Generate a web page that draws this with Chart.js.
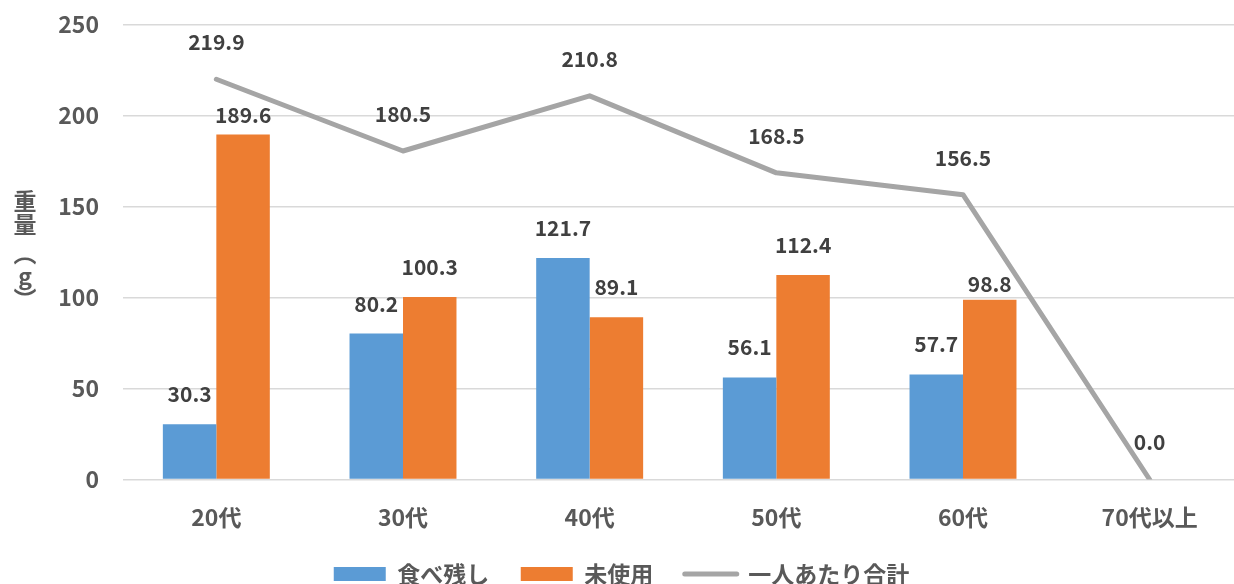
<!DOCTYPE html>
<html><head><meta charset="utf-8">
<style>
html,body{margin:0;padding:0;overflow:hidden;background:#fff}
#wrap{width:1250px;height:600px;position:relative}
#ytitle{position:absolute;left:13px;top:190px;writing-mode:vertical-rl;text-orientation:upright;
  font:bold 23px 'Noto Sans CJK JP','Noto Sans',sans-serif;line-height:24px;color:#595959;white-space:nowrap}
#ytitle .p1{display:inline-block;margin-top:6px}
</style>
<script src="https://cdn.jsdelivr.net/npm/chart.js@4/dist/chart.umd.min.js"></script>
</head><body>
<div id="wrap"><canvas id="c" width="1250" height="600"></canvas>
<div id="ytitle">重量<span class="p1">（g）</span></div></div>
<script>
const categories = ['20代','30代','40代','50代','60代','70代以上'];
const leftovers = [30.3, 80.2, 121.7, 56.1, 57.7, null];
const unused = [189.6, 100.3, 89.1, 112.4, 98.8, null];
const perPerson = [219.9, 180.5, 210.8, 168.5, 156.5, 0.0];
const seriesNames = ['食べ残し', '未使用', '一人あたり合計'];
const yMin = 0, yMax = 250, yStep = 50;

const FONT = "'Noto Sans CJK JP', 'Noto Sans', sans-serif";
const BLUE = '#5b9bd5', ORANGE = '#ed7d31', GRAY = '#a5a5a5';
const AXIS_TEXT = '#595959', LABEL_TEXT = '#404040';

// label styling (distance of value label above its mark, px)
const LABEL_LIFT_DEFAULT = [30, 30, 37];
const LABEL_LIFT_SPECIAL = [[], [19, null, null, null, 16, null], []];

const valueLabels = {
  id: 'valueLabels',
  afterDatasetsDraw(chart) {
    const ctx = chart.ctx;
    ctx.save();
    ctx.font = 'bold 21px ' + FONT;
    ctx.fillStyle = LABEL_TEXT;
    ctx.textAlign = 'center';
    ctx.textBaseline = 'middle';
    chart.data.datasets.forEach((ds, i) => {
      const meta = chart.getDatasetMeta(i);
      meta.data.forEach((el, j) => {
        const v = ds.data[j];
        if (v === null || v === undefined) return;
        const sp = LABEL_LIFT_SPECIAL[i][j];
        const lift = (sp !== null && sp !== undefined) ? sp : LABEL_LIFT_DEFAULT[i];
        ctx.fillText(v.toFixed(1), el.x, el.y - lift);
      });
    });
    ctx.restore();
  }
};

new Chart(document.getElementById('c'), {
  type: 'bar',
  data: {
    labels: categories,
    datasets: [
      { label: seriesNames[0], data: leftovers, backgroundColor: BLUE, order: 1,
        categoryPercentage: 0.573, barPercentage: 1.0 },
      { label: seriesNames[1], data: unused, backgroundColor: ORANGE, order: 1,
        categoryPercentage: 0.573, barPercentage: 1.0 },
      { label: seriesNames[2], data: perPerson, type: 'line', borderColor: GRAY,
        backgroundColor: GRAY, borderWidth: 5, pointRadius: 0, tension: 0,
        borderCapStyle: 'round', borderJoinStyle: 'round', order: 0 }
    ]
  },
  options: {
    responsive: false,
    animation: false,
    devicePixelRatio: 1,
    layout: { padding: { left: 0, right: 7, top: 24.5, bottom: 4.5 } },
    scales: {
      x: {
        grid: { display: false, drawTicks: false },
        border: { display: false },
        ticks: { color: AXIS_TEXT, font: { family: FONT, size: 23, weight: 'bold' }, padding: 24, maxRotation: 0 },
        afterFit(scale) { scale.height = 51.5; }
      },
      y: {
        min: yMin, max: yMax,
        grid: { color: '#d9d9d9', lineWidth: 1.5, drawTicks: false },
        border: { display: false },
        ticks: { stepSize: yStep, color: AXIS_TEXT, font: { family: FONT, size: 23, weight: 'bold' }, padding: 24 },
        afterFit(scale) { scale.width = 123; scale.paddingTop = 0; scale.paddingBottom = 0; }
      }
    },
    plugins: {
      tooltip: { enabled: false },
      legend: {
        position: 'bottom',
        labels: {
          color: AXIS_TEXT,
          font: { family: FONT, size: 23, weight: 'bold' },
          usePointStyle: true,
          pointStyleWidth: 52,
          boxHeight: 14,
          padding: 31.5,
          sort: (a, b) => a.datasetIndex - b.datasetIndex,
          generateLabels(chart) {
            const items = Chart.defaults.plugins.legend.labels.generateLabels(chart);
            items.forEach(it => {
              if (it.datasetIndex === 2) {
                it.pointStyle = 'line'; it.lineWidth = 5; it.strokeStyle = GRAY; it.lineCap = 'round';
              } else {
                it.pointStyle = 'rect'; it.lineWidth = 0;
              }
            });
            return items;
          }
        }
      }
    }
  },
  plugins: [valueLabels]
});
</script>
</body></html>
